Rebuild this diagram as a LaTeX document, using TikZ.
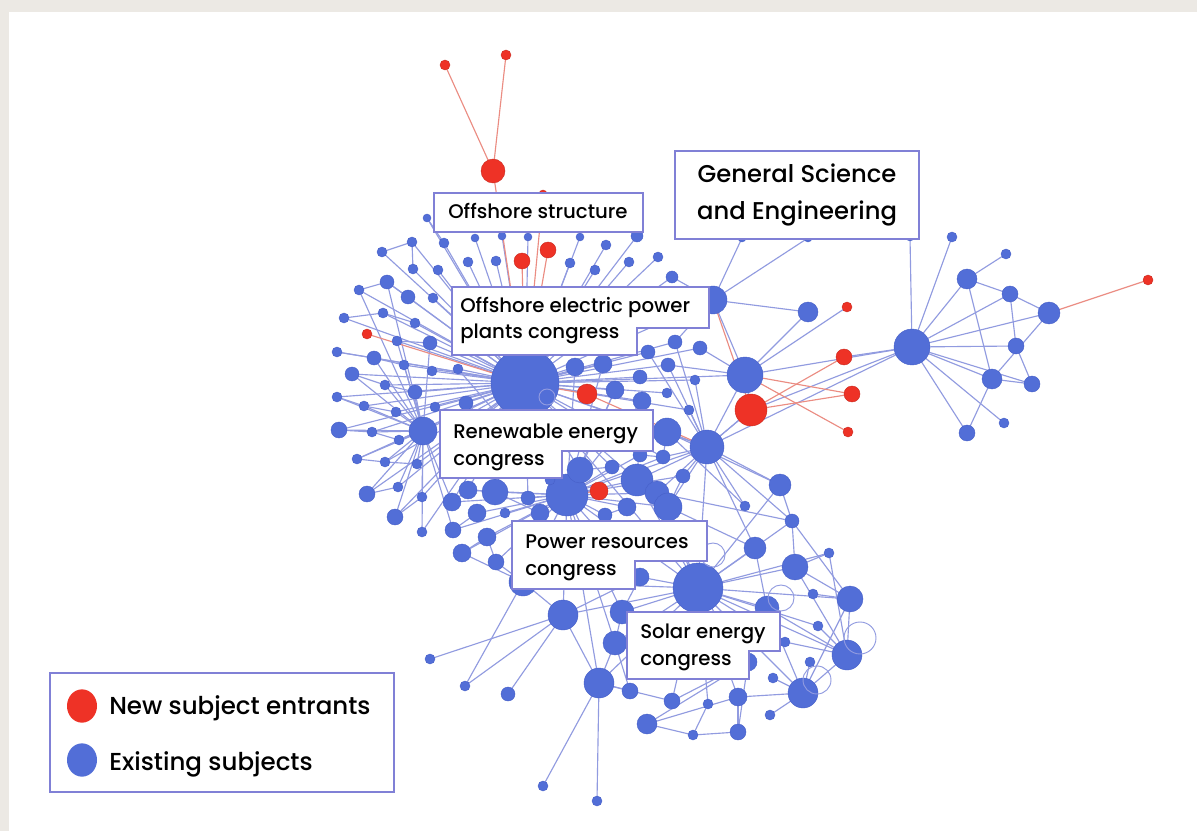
\documentclass[tikz,border=0pt]{standalone}
\usepackage{fontspec}
\setmainfont{Poppins}[BoldFont={Poppins Medium}]
\usetikzlibrary{shapes.geometric}
\definecolor{nblue}{RGB}{82,110,215}
\definecolor{nbluedk}{RGB}{70,95,200}
\definecolor{nred}{RGB}{238,50,38}
\definecolor{eblue}{RGB}{145,155,224}
\definecolor{ered}{RGB}{235,140,130}
\definecolor{boxc}{RGB}{128,128,214}
\definecolor{bgc}{RGB}{236,233,228}
\pgfdeclarelayer{back}\pgfdeclarelayer{edges}
\pgfsetlayers{back,edges,main}
\tikzset{
 bn/.style={circle,inner sep=0pt,fill=nblue,draw=nbluedk,line width=0.3pt},
 rdn/.style={circle,inner sep=0pt,fill=nred,draw=nred!85!black,line width=0.3pt},
 hn/.style={circle,inner sep=0pt,draw=eblue,line width=0.7pt},
 be/.style={draw=eblue,line width=0.85pt},
 re/.style={draw=ered,line width=0.85pt},
 lbox/.style={fill=white,draw=boxc,line width=1.1pt},
 ltxt/.style={anchor=base west,inner sep=0pt,font=\fontsize{14.8}{17}\bfseries},
 gtxt/.style={anchor=base,inner sep=0pt,font=\fontsize{18.2}{21}\bfseries},
 legtxt/.style={anchor=base west,inner sep=0pt,font=\fontsize{18.4}{21}\bfseries},
}
\begin{document}
\begin{tikzpicture}[x=0.75pt,y=-0.75pt]
\begin{pgfonlayer}{back}
\fill[bgc] (0,0) rectangle (1197,831);
\fill[white] (9,12) rectangle (1197,831);
\end{pgfonlayer}
\useasboundingbox (0,0) rectangle (1197,831);
% blue nodes
\foreach \n/\x/\y/\r in {
H1/525/383/34, H2/423/431/14, H3/698/588/25, HG/912/347/18, Q/567/495/21, P/707/447/17, M/745/375/18,
t1/427/218/4, t2/412/242/5, t3/382/252/5, t4/444/243/5, t5/475/238/4, t6/502/236/4, t7/528/237/4, t8/580/237/4,
t9/606/245/5, t10/637/236/6, t11/658/257/5, t12/629/262/5, t13/595/270/5, t14/570/263/5, t15/496/261/5, t16/468/262/5,
t17/438/270/5, t18/413/269/5, t19/387/282/7, t20/408/297/7, t21/433/298/5, t22/359/290/5, t23/344/318/5, t24/383/313/5,
t25/415/323/5, t26/397/341/5, t27/430/343/7, t28/337/352/5, t29/374/358/7, t30/404/365/5, t31/432/371/5, t32/458/369/5,
t33/352/374/7, t34/385/385/5, t35/415/392/7, t36/337/397/5, t37/364/406/5, t38/396/412/5, t39/435/407/5, t40/466/403/7,
t41/372/432/5, t42/339/430/8, t43/357/459/5, t44/385/462/5, t45/399/440/5, t46/417/464/5, t47/367/494/8, t48/398/487/5,
t49/422/497/5, t50/395/517/8, t51/422/532/5, t52/672/277/6, t53/675/342/7, t54/700/348/7, t55/648/352/7, t56/668/365/7,
t57/603/364/9, t58/575/367/9, t59/640/377/7, t60/615/390/9, t61/695/380/5, t62/642/401/9, t63/667/393/5, t64/667/432/14,
t65/689/410/5, t66/713/300/14, t67/808/312/10, t68/808/238/4, t69/910/237/4, t70/742/238/4,
c1/452/502/9, c2/468/490/9, c3/495/492/13, c4/477/513/9, c5/453/530/8, c6/462/553/9, c7/487/537/9, c8/496/562/8,
c9/505/513/5, c10/528/498/7, c11/540/513/9, c12/550/480/5, c13/580/470/13, c14/612/467/7, c15/637/480/16, c16/657/493/12,
c17/668/507/14, c18/627/507/9, c19/605/515/7, c20/663/457/7, c21/683/476/7, c22/640/455/7, c23/640/577/9, c24/523/582/14,
c25/563/615/15, c26/622/612/12, c27/615/643/12,
d1/780/485/11, d2/745/506/5, d3/792/521/7, d4/755/548/11, d5/795/567/13, d6/829/553/5, d7/813/594/5, d8/850/599/13,
d9/767/608/12, d10/818/626/5, d11/785/642/5, d12/847/655/15, d13/810/662/5, d14/748/662/9, d15/773/678/5, d16/803/693/15,
d17/770/715/5, d18/738/697/9, d19/708/704/5, d20/672/701/8, d21/630/691/8, d22/599/683/15, d23/647/724/10, d24/693/735/5,
d25/738/732/8, d26/430/659/5, d27/465/686/5, d28/508/694/7, d29/543/786/5, d30/597/801/5,
g1/952/237/5, g2/1006/254/5, g3/967/279/10, g4/1010/294/8, g5/1049/313/11, g6/1016/346/8, g7/992/379/10, g8/1032/384/8,
g9/967/433/8, g10/1004/423/5}
  \node[bn,minimum size={\r*1.5pt}] (\n) at (\x,\y) {};
% red nodes
\foreach \n/\x/\y/\r in {r1/445/65/5, r2/506/55/5, r3/493/171/12, r4/543/194/4, r5/548/250/8, r6/522/261/8, r7/367/334/5,
r8/587/394/10, r9/599/491/9, r10/847/307/5, r11/844/357/8, r12/852/394/8, r13/848/432/5, r14/1148/280/5, RR/751/410/16}
  \node[rdn,minimum size={\r*1.5pt}] (\n) at (\x,\y) {};
% hollow loops
\foreach \n/\x/\y/\r in {h1/547/397/8, h2/860/638/16, h3/817/680/14, h4/781/598/13, h5/713/555/12}
  \node[hn,minimum size={\r*1.5pt}] (\n) at (\x,\y) {};
\begin{pgfonlayer}{edges}
\foreach \i in {1,...,66} \draw[be] (H1.center) -- (t\i.center);
\foreach \b in {c1,c2,c3,c10,c12,c13,c14,c15,c20,c22,Q,P,M,H2,H3}
  \draw[be] (H1.center) -- (\b.center);
\foreach \b in {t26,t27,t29,t30,t33,t34,t35,t36,t37,t38,t41,t42,t43,t44,t45,t46,t47,t48,t49,t50,t51,c1,c5,t19,t22}
  \draw[be] (H2.center) -- (\b.center);
\foreach \i in {1,...,27} \draw[be] (Q.center) -- (c\i.center);
\foreach \b in {H3,P,t57,t58,t60,t62,t40,t32,d22}
  \draw[be] (Q.center) -- (\b.center);
\foreach \b in {d1,d2,d3,d4,H3,RR,M,t64,t65,t61,c15,c16,c17,c20,c21,t56,t53,t55}
  \draw[be] (P.center) -- (\b.center);
\foreach \b in {c23,c26,c27,c24,d4,d5,d6,d8,d9,d10,d12,d14,d16,d11,d20,d19,d18,c17,c15,c16,d3,d1,d22,c25}
  \draw[be] (H3.center) -- (\b.center);
\foreach \a/\b in {d5/d6,d5/d8,d8/d12,d12/d16,d8/d16,d9/d12,d9/d16,d14/d23,d23/d24,d24/d25,d25/d18,d18/d16,
  d14/d25,d20/d22,d21/d22,d22/d29,d22/d30,c25/d22,c25/d26,c25/d27,c25/d28,c24/d27,c24/c25,c27/d21,c26/c27,
  c27/d22,d13/d16,d15/d16,d17/d16,d7/d8,d10/d12,d11/d12,d19/d24,d18/d25,c23/c25,c23/c26,d1/d3,d3/d5,d4/d9,
  d5/d12,d8/d3,d6/d12,d14/d20,d23/d18,c24/c8,c6/c24,t64/d1,t64/d2,c17/d4,c16/d3,
  HG/g1,HG/g3,HG/g4,HG/g5,HG/g6,HG/g7,HG/g8,HG/g9,HG/g10,HG/t69,HG/r11,HG/RR,HG/P,HG/M,
  g3/g2,g3/g4,g3/g7,g4/g5,g4/g6,g5/g7,g6/g8,g7/g8,g7/g9,
  M/r10,M/t67,M/t66,M/RR,M/t54,M/t56,RR/P,t66/t68,t66/t70,t66/t67,t66/t53,t66/t52,
  t22/t19,t23/t24,t28/t29,t33/t34,t36/t37,t42/t41,t43/t44,t47/t48,t50/t49,t3/t2,t2/t18,t19/t20,t24/t25,t26/t27,
  t29/t30,t34/t35,t37/t38,t41/t45,t44/t46,t1/t4,c1/c2,c2/c3,c4/c5,c6/c7,c7/c8,c3/c11,c13/c14,c15/c16,c16/c17,c18/c19,
  c20/c22,c21/c17,t64/c20,t62/c15,t60/c13}
  \draw[be] (\a.center) -- (\b.center);
\foreach \a/\b in {r1/r3,r2/r3,r3/H1,r4/H1,r5/H1,r6/H1,r7/H1,r8/H1,r9/Q,RR/r11,RR/r12,M/r12,M/r13,t66/RR,g5/r14,r8/P}
  \draw[re] (\a.center) -- (\b.center);
\end{pgfonlayer}
% labels
\path[lbox] (434,193) rectangle (643,232);
\node[ltxt] (l1) at (448,219) {Offshore structure};
\path[lbox] (675,151) rectangle (919,239);
\node[gtxt] (l2a) at (797,183) {General Science};
\node[gtxt] (l2b) at (797,220) {and Engineering};
\path[lbox] (452,287) -- (709,287) -- (709,328) -- (637,328) -- (637,355) -- (452,355) -- cycle;
\node[ltxt] (l3a) at (460,313) {Offshore electric power};
\node[ltxt] (l3b) at (460,339) {plants congress};
\path[lbox] (440,410) -- (653,410) -- (653,451) -- (562,451) -- (562,478) -- (440,478) -- cycle;
\node[ltxt] (l4a) at (453,438) {Renewable energy};
\node[ltxt] (l4b) at (453,465) {congress};
\path[lbox] (512,521) -- (707,521) -- (707,561) -- (635,561) -- (635,589) -- (512,589) -- cycle;
\node[ltxt] (l5a) at (525,548) {Power resources};
\node[ltxt] (l5b) at (525,575) {congress};
\path[lbox] (627,612) -- (780,612) -- (780,651) -- (749,651) -- (749,679) -- (627,679) -- cycle;
\node[ltxt] (l6a) at (640,638) {Solar energy};
\node[ltxt] (l6b) at (640,665) {congress};
% legend
\path[lbox] (50,673) rectangle (394,792);
\node[ellipse,fill=nred,inner sep=0pt,minimum width=22.5pt,minimum height=25pt] (lr) at (82,706) {};
\node[ellipse,fill=nblue,inner sep=0pt,minimum width=22.5pt,minimum height=25pt] (lb) at (82,760) {};
\node[legtxt] (lt1) at (109,714) {New subject entrants};
\node[legtxt] (lt2) at (109,770) {Existing subjects};
\end{tikzpicture}
\end{document}
